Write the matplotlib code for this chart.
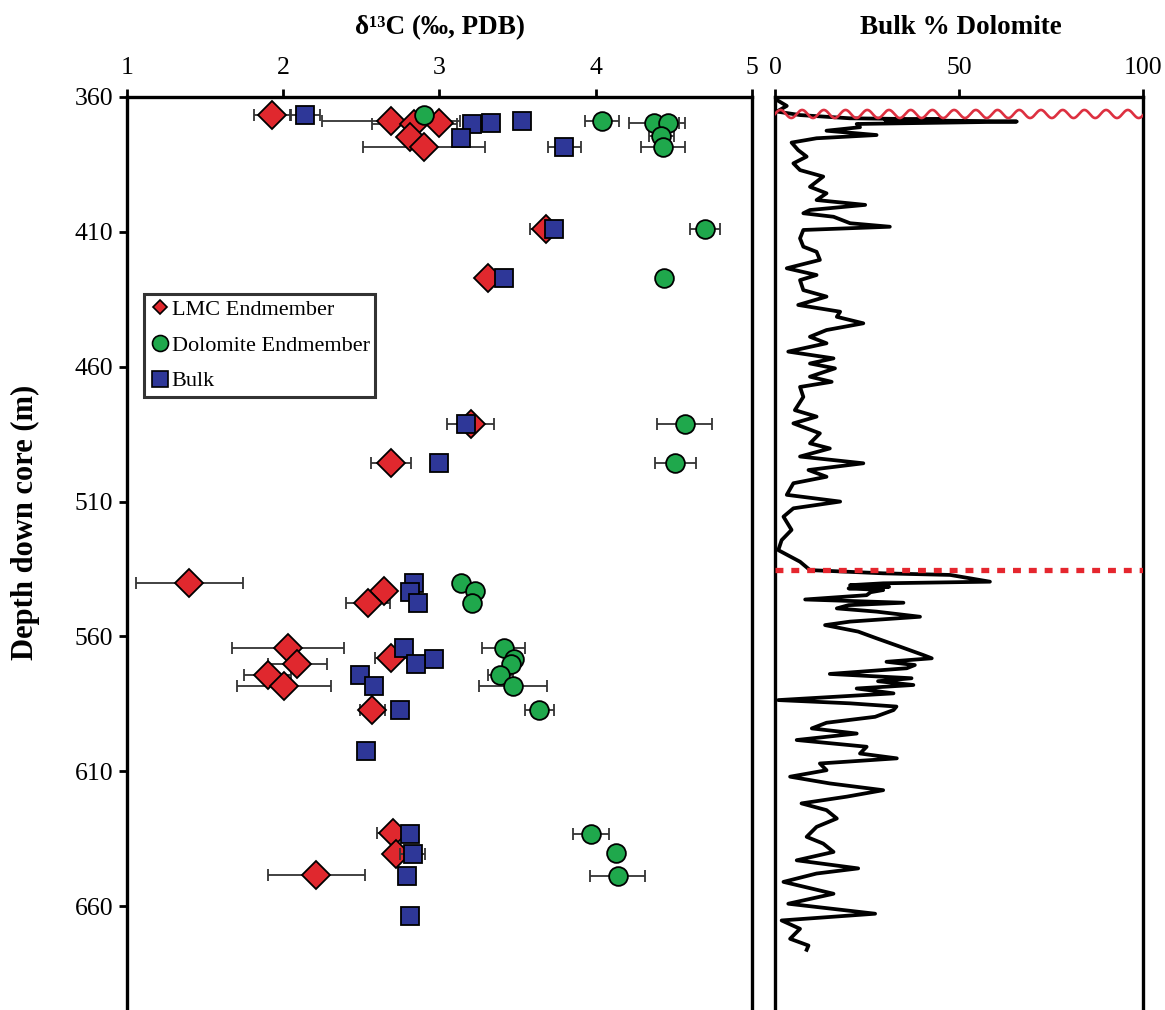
import numpy as np
import matplotlib
matplotlib.use("Agg")
import matplotlib.pyplot as plt
from matplotlib.lines import Line2D

plt.rcParams['font.family'] = ['Liberation Serif', 'DejaVu Serif']

# d13C endmember and bulk values (permil PDB) vs depth (m), with x error
lmc_d13c = [1.93, 2.69, 2.84, 3.00, 2.81, 2.90, 3.68, 3.31, 3.20, 2.69,
            1.40, 2.645, 2.54, 2.03, 2.69, 2.09, 1.90, 2.005, 2.57,
            2.70, 2.72, 2.21]
lmc_depth = [366.8, 368.8, 370.0, 369.6, 374.9, 378.6, 409.1, 427.2, 481.2, 495.6,
             540.1, 543.2, 547.5, 564.2, 568.1, 570.4, 574.3, 578.4, 587.3,
             633.0, 640.7, 648.5]
lmc_err = [0.12, 0.44, 0.27, 0, 0, 0.39, 0.10, 0, 0.15, 0.13,
           0.34, 0, 0.14, 0.36, 0.10, 0.19, 0.15, 0.30, 0.08,
           0.10, 0, 0.31]

dol_d13c = [2.90, 4.04, 4.37, 4.46, 4.42, 4.43, 4.70, 4.44, 4.57, 4.51,
            3.14, 3.23, 3.21, 3.41, 3.48, 3.46, 3.39, 3.47, 3.64,
            3.97, 4.13, 4.14]
dol_depth = [366.8, 368.8, 369.6, 369.6, 374.6, 378.6, 409.1, 427.2, 481.2, 495.6,
             540.1, 543.2, 547.5, 564.2, 568.4, 570.4, 574.3, 578.4, 587.3,
             633.4, 640.4, 648.9]
dol_err = [0, 0.11, 0.16, 0.11, 0.08, 0.14, 0.095, 0, 0.175, 0.13,
           0, 0, 0, 0.14, 0, 0, 0.08, 0.215, 0.095,
           0.115, 0.04, 0.176]

bulk_d13c = [2.14, 3.21, 3.33, 3.53, 3.14, 3.80, 3.73, 3.41, 3.17, 3.00,
             2.84, 2.81, 2.86, 2.77, 2.965, 2.85, 2.49, 2.58, 2.75, 2.53,
             2.81, 2.83, 2.79, 2.81]
bulk_depth = [366.8, 370.0, 369.6, 368.8, 375.2, 378.6, 409.1, 427.2, 481.2, 495.6,
              540.1, 543.4, 547.5, 564.2, 568.4, 570.4, 574.3, 578.4, 587.3, 602.5,
              633.4, 640.7, 648.9, 663.7]
bulk_err = [0.096, 0, 0, 0, 0, 0.107, 0, 0, 0, 0,
            0, 0, 0, 0, 0, 0, 0, 0, 0, 0,
            0, 0.08, 0, 0]

# bulk dolomite log
dolo_depth = [361.1, 363.3, 365.4, 366.7, 367.9, 368.3, 368.6, 368.9, 369.1, 370.0,
              371.2, 372.5, 374.1, 375.3, 376.9, 379.7, 382.1, 384.6, 387.1, 389.5,
              393.3, 395.7, 398.2, 400.0, 401.9, 403.1, 404.4, 406.8, 408.1, 409.3,
              412.4, 415.5, 417.4, 420.4, 423.5, 426.0, 427.9, 431.6, 434.0, 437.1,
              439.6, 441.5, 443.9, 446.4, 448.9, 451.3, 454.4, 456.9, 458.8, 460.6,
              463.7, 465.6, 467.5, 471.2, 476.1, 478.5, 481.0, 484.7, 488.4, 490.3,
              493.3, 495.8, 498.3, 500.8, 503.2, 507.5, 510.0, 512.5, 515.6, 520.5,
              524.3, 528.0, 532.3, 535.4, 536.6, 537.2, 539.7, 540.3, 541.0, 541.6,
              542.2, 542.8, 543.6, 544.7, 546.3, 547.5, 548.4, 549.6, 550.8, 552.7,
              554.5, 555.8, 558.2, 560.7, 563.8, 566.9, 568.1, 569.4, 570.6, 571.8,
              573.9, 575.5, 576.6, 578.0, 579.3, 581.1, 583.6, 584.8, 586.0, 587.3,
              589.8, 592.0, 594.1, 596.0, 598.4, 600.9, 603.4, 605.2, 607.1, 609.6,
              612.0, 614.5, 617.0, 619.4, 621.9, 624.4, 627.5, 630.6, 634.3, 636.8,
              639.9, 643.0, 646.0, 647.9, 651.0, 655.4, 659.1, 662.8, 665.3, 668.4,
              672.1, 674.6, 676.2]
dolo_pct = [0.5, 3.2, 0.5, 6.8, 20.4, 45.0, 30.0, 55.0, 65.7, 22.2,
            23.1, 14.0, 27.6, 11.3, 4.5, 6.3, 8.6, 5.0, 6.8, 13.1,
            9.5, 14.0, 11.3, 24.5, 9.5, 7.7, 15.9, 20.4, 31.2, 7.7,
            6.8, 7.7, 11.3, 12.2, 3.2, 11.3, 6.8, 7.7, 14.0, 6.3,
            17.7, 16.8, 24.0, 14.0, 9.5, 14.0, 3.6, 15.9, 9.5, 16.3,
            9.5, 15.4, 6.8, 7.7, 5.4, 11.3, 5.0, 12.2, 9.5, 14.9,
            6.8, 24.0, 9.1, 14.0, 5.0, 3.2, 17.7, 5.0, 2.3, 4.5,
            1.8, 0.9, 6.8, 9.5, 29.4, 47.6, 58.4, 29.4, 20.4, 31.0,
            20.0, 29.4, 26.0, 24.9, 8.2, 34.9, 20.0, 16.8, 27.6, 39.4,
            20.4, 13.6, 22.6, 27.6, 34.0, 40.3, 42.6, 30.3, 38.0, 35.8,
            14.9, 37.1, 28.0, 37.6, 22.2, 32.2, 0.9, 20.4, 33.0, 32.2,
            27.2, 14.0, 10.0, 22.2, 5.9, 24.9, 23.1, 33.1, 12.2, 14.0,
            4.1, 14.9, 29.4, 19.5, 7.2, 14.0, 16.8, 11.3, 8.6, 13.1,
            15.9, 5.9, 22.6, 11.3, 2.3, 15.9, 3.6, 27.2, 1.8, 6.8,
            4.1, 9.1, 8.6]

unconformity_depth = 366.3
boundary_depth = 535.4

red = '#E0282E'
green = '#1FA84C'
blue = '#2E3798'

W, H = 1165, 1010
fig = plt.figure(figsize=(W / 100, H / 100), dpi=100)
ax1 = fig.add_axes([127 / W, 0, 625 / W, 1 - 97 / H])
ax2 = fig.add_axes([775 / W, 0, 368 / W, 1 - 97 / H])

ymax = 698.5


def draw_series(ax, x, y, err, marker, color, ms, z):
    x = np.array(x)
    y = np.array(y)
    err = np.array(err)
    m = err > 0
    ax.errorbar(x[m], y[m], xerr=err[m], fmt='none', ecolor='#333333',
                elinewidth=1.3, capsize=4.5, capthick=1.3, zorder=z)
    ax.plot(x, y, ls='none', marker=marker, ms=ms, mfc=color, mec='black',
            mew=1.3, zorder=z + 0.5)


draw_series(ax1, lmc_d13c, lmc_depth, lmc_err, 'D', red, 14, 3)
draw_series(ax1, dol_d13c, dol_depth, dol_err, 'o', green, 13.5, 4)
draw_series(ax1, bulk_d13c, bulk_depth, bulk_err, 's', blue, 13.5, 5)

ax1.set_xlim(1, 5)
ax1.set_ylim(ymax, 360)
ax1.set_xticks([1, 2, 3, 4, 5])
ax1.set_yticks(np.arange(360, 661, 50))
ax1.xaxis.tick_top()

handles = [
    Line2D([], [], ls='none', marker='D', ms=7.5, mfc=red, mec='black', mew=1.2),
    Line2D([], [], ls='none', marker='o', ms=11.5, mfc=green, mec='black', mew=1.2),
    Line2D([], [], ls='none', marker='s', ms=11, mfc=blue, mec='black', mew=1.2),
]
leg = ax1.legend(handles, ['LMC Endmember', 'Dolomite Endmember', 'Bulk'],
                 loc='upper left', bbox_to_anchor=(144 / W, 1 - 294 / H),
                 bbox_transform=fig.transFigure, fontsize=16, frameon=True,
                 fancybox=False, borderpad=0.25, handlelength=0.9,
                 handletextpad=0.1, labelspacing=0.68, borderaxespad=0)
leg.get_frame().set_edgecolor('black')
leg.get_frame().set_linewidth(2.2)

# dolomite log
ax2.plot(dolo_pct, dolo_depth, color='black', lw=2.7, solid_joinstyle='round', zorder=3)
wave_x = np.linspace(0, 100, 1200)
wave_y = unconformity_depth - 1.5 * np.sin(2 * np.pi * wave_x / 5.9)
ax2.plot(wave_x, wave_y, color='#DD3040', lw=1.9, zorder=4)
ax2.axhline(boundary_depth, color='#E5262E', lw=3.8, linestyle=(0, (1.5, 1.5)), zorder=4)
ax2.set_xlim(0, 100)
ax2.set_ylim(ymax, 360)
ax2.set_xticks([0, 50, 100])
ax2.set_yticks([])
ax2.xaxis.tick_top()

for ax in (ax1, ax2):
    ax.spines['bottom'].set_visible(False)
    for s in ('top', 'left', 'right'):
        ax.spines[s].set_linewidth(2.4)
    ax.tick_params(direction='out', length=6, width=2, labelsize=18.5, pad=7)
ax1.tick_params(axis='y', pad=4)

fig.text(440 / W, 1 - 28 / H, 'δ¹³C (‰, PDB)', ha='center', va='center',
         fontsize=19.5, fontweight='bold')
fig.text(961 / W, 1 - 28 / H, 'Bulk % Dolomite', ha='center', va='center',
         fontsize=19.5, fontweight='bold')
fig.text(25 / W, 1 - 522 / H, 'Depth down core (m)', ha='center', va='center',
         rotation=90, fontsize=22, fontweight='bold')

fig.savefig('out.png', dpi=100)
